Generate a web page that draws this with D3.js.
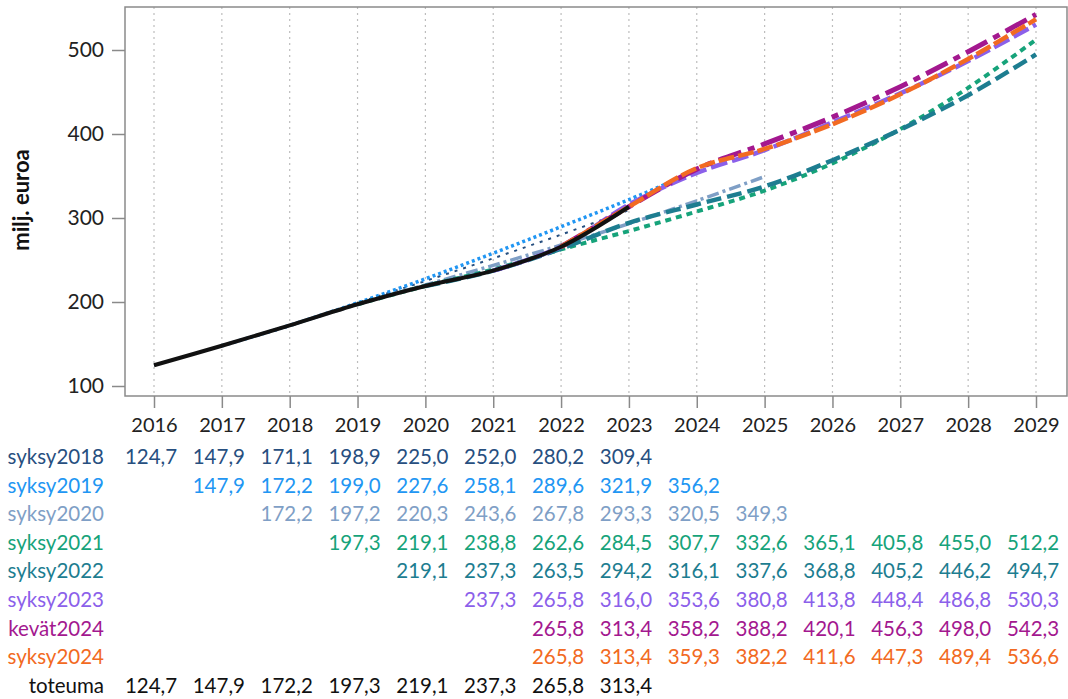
<!DOCTYPE html>
<html>
<head>
<meta charset="utf-8">
<script src="https://cdn.jsdelivr.net/npm/d3@7"></script>
<style>
  body { margin: 0; background: #fff; }
  svg { display: block; font-family: Lato, "Open Sans", sans-serif; }
</style>
</head>
<body>
<svg id="chart" width="1068" height="699"></svg>
<script>
// data
const years = [2016, 2017, 2018, 2019, 2020, 2021, 2022, 2023, 2024, 2025, 2026, 2027, 2028, 2029];
const seriesNames = ['syksy2018', 'syksy2019', 'syksy2020', 'syksy2021', 'syksy2022', 'syksy2023', 'kevät2024', 'syksy2024', 'toteuma'];

const syksy2018 = [124.7, 147.9, 171.1, 198.9, 225.0, 252.0, 280.2, 309.4, null, null, null, null, null, null];
const syksy2019 = [null, 147.9, 172.2, 199.0, 227.6, 258.1, 289.6, 321.9, 356.2, null, null, null, null, null];
const syksy2020 = [null, null, 172.2, 197.2, 220.3, 243.6, 267.8, 293.3, 320.5, 349.3, null, null, null, null];
const syksy2021 = [null, null, null, 197.3, 219.1, 238.8, 262.6, 284.5, 307.7, 332.6, 365.1, 405.8, 455.0, 512.2];
const syksy2022 = [null, null, null, null, 219.1, 237.3, 263.5, 294.2, 316.1, 337.6, 368.8, 405.2, 446.2, 494.7];
const syksy2023 = [null, null, null, null, null, 237.3, 265.8, 316.0, 353.6, 380.8, 413.8, 448.4, 486.8, 530.3];
const kevat2024 = [null, null, null, null, null, null, 265.8, 313.4, 358.2, 388.2, 420.1, 456.3, 498.0, 542.3];
const syksy2024 = [null, null, null, null, null, null, 265.8, 313.4, 359.3, 382.2, 411.6, 447.3, 489.4, 536.6];
const toteuma = [124.7, 147.9, 172.2, 197.3, 219.1, 237.3, 265.8, 313.4, null, null, null, null, null, null];

const yTicks = [100, 200, 300, 400, 500];

const seriesValues = [syksy2018, syksy2019, syksy2020, syksy2021, syksy2022, syksy2023, kevat2024, syksy2024, toteuma];

const colors = ['#274f7f', '#2196f3', '#7f9fc6', '#16a37a', '#1d7d90', '#8b60ea', '#a3188f', '#f26a22', '#111111'];
const dashes = ['3,6', '3,3', '12,4,3,4', '6,5', '15,6', '17,5', '24,7,7,7', '16,4', null];
const widths = [2, 3.5, 3.5, 4, 4.5, 4.5, 5, 4.5, 4];

const svg = d3.select('#chart');
const plot = {left: 125, right: 1067, top: 7, bottom: 396};

const x = d3.scalePoint()
  .domain(years)
  .range([154, 1036]);

const y = d3.scaleLinear()
  .domain([100, 500])
  .range([386, 50]);

const fmt = d3.formatLocale({decimal: ',', thousands: ' ', grouping: [3], currency: ['', '']}).format('.1f');

// vertical dotted gridlines
svg.append('g')
  .selectAll('line')
  .data(years)
  .enter().append('line')
    .attr('x1', d => x(d))
    .attr('x2', d => x(d))
    .attr('y1', plot.top)
    .attr('y2', plot.bottom)
    .attr('stroke', '#bdbdbd')
    .attr('stroke-width', 1.2)
    .attr('stroke-dasharray', '2,4');

// frame
svg.append('rect')
  .attr('x', plot.left)
  .attr('y', plot.top)
  .attr('width', plot.right - plot.left)
  .attr('height', plot.bottom - plot.top)
  .attr('fill', 'none')
  .attr('stroke', '#8a8a8a')
  .attr('stroke-width', 1.5);

// y axis
const yAxis = svg.append('g')
  .attr('transform', `translate(${plot.left},0)`)
  .call(d3.axisLeft(y).tickValues(yTicks).tickSize(13).tickPadding(8));
yAxis.select('.domain').remove();
yAxis.selectAll('.tick line').attr('stroke', '#8a8a8a').attr('stroke-width', 1.5);
yAxis.selectAll('.tick text')
  .attr('fill', '#222')
  .style('font-size', '21px')
  .style('font-family', 'Lato, sans-serif');

// x axis
const xAxis = svg.append('g')
  .attr('transform', `translate(0,${plot.bottom})`)
  .call(d3.axisBottom(x).tickSize(12).tickPadding(10));
xAxis.select('.domain').remove();
xAxis.selectAll('.tick line').attr('stroke', '#8a8a8a').attr('stroke-width', 1.5);
xAxis.selectAll('.tick text')
  .attr('fill', '#222')
  .style('font-size', '20px')
  .style('font-family', 'Lato, sans-serif');

svg.append('text')
  .attr('transform', 'translate(29,200) rotate(-90)')
  .attr('text-anchor', 'middle')
  .style('font-size', '22px')
  .style('font-weight', 'bold')
  .attr('fill', '#111')
  .text('milj. euroa');

// lines
const line = d3.line()
  .x(d => x(d.year))
  .y(d => y(d.v))
  .curve(d3.curveCatmullRom.alpha(0.5));

svg.append('g')
  .selectAll('path')
  .data(seriesValues)
  .enter().append('path')
    .attr('d', vals => line(vals.map((v, i) => ({year: years[i], v: v})).filter(d => d.v != null)))
    .attr('fill', 'none')
    .attr('stroke', (d, i) => colors[i])
    .attr('stroke-width', (d, i) => widths[i])
    .attr('stroke-dasharray', (d, i) => dashes[i])
    .attr('stroke-linejoin', 'round');

// data table under the chart
const rowY = i => 464 + i * 28.6;

const rows = svg.append('g')
  .selectAll('g')
  .data(seriesValues)
  .enter().append('g')
    .attr('fill', (d, i) => colors[i])
    .style('font-size', '20.5px');

rows.append('text')
  .attr('x', 104)
  .attr('y', (d, i) => rowY(i))
  .attr('text-anchor', 'end')
  .text((d, i) => seriesNames[i]);

rows.each(function(vals, i) {
  d3.select(this).selectAll('text.val')
    .data(vals.map((v, j) => ({year: years[j], v: v})).filter(d => d.v != null))
    .enter().append('text')
      .attr('class', 'val')
      .attr('x', d => x(d.year) - 3)
      .attr('y', rowY(i))
      .attr('text-anchor', 'middle')
      .text(d => fmt(d.v));
});
</script>
</body>
</html>
